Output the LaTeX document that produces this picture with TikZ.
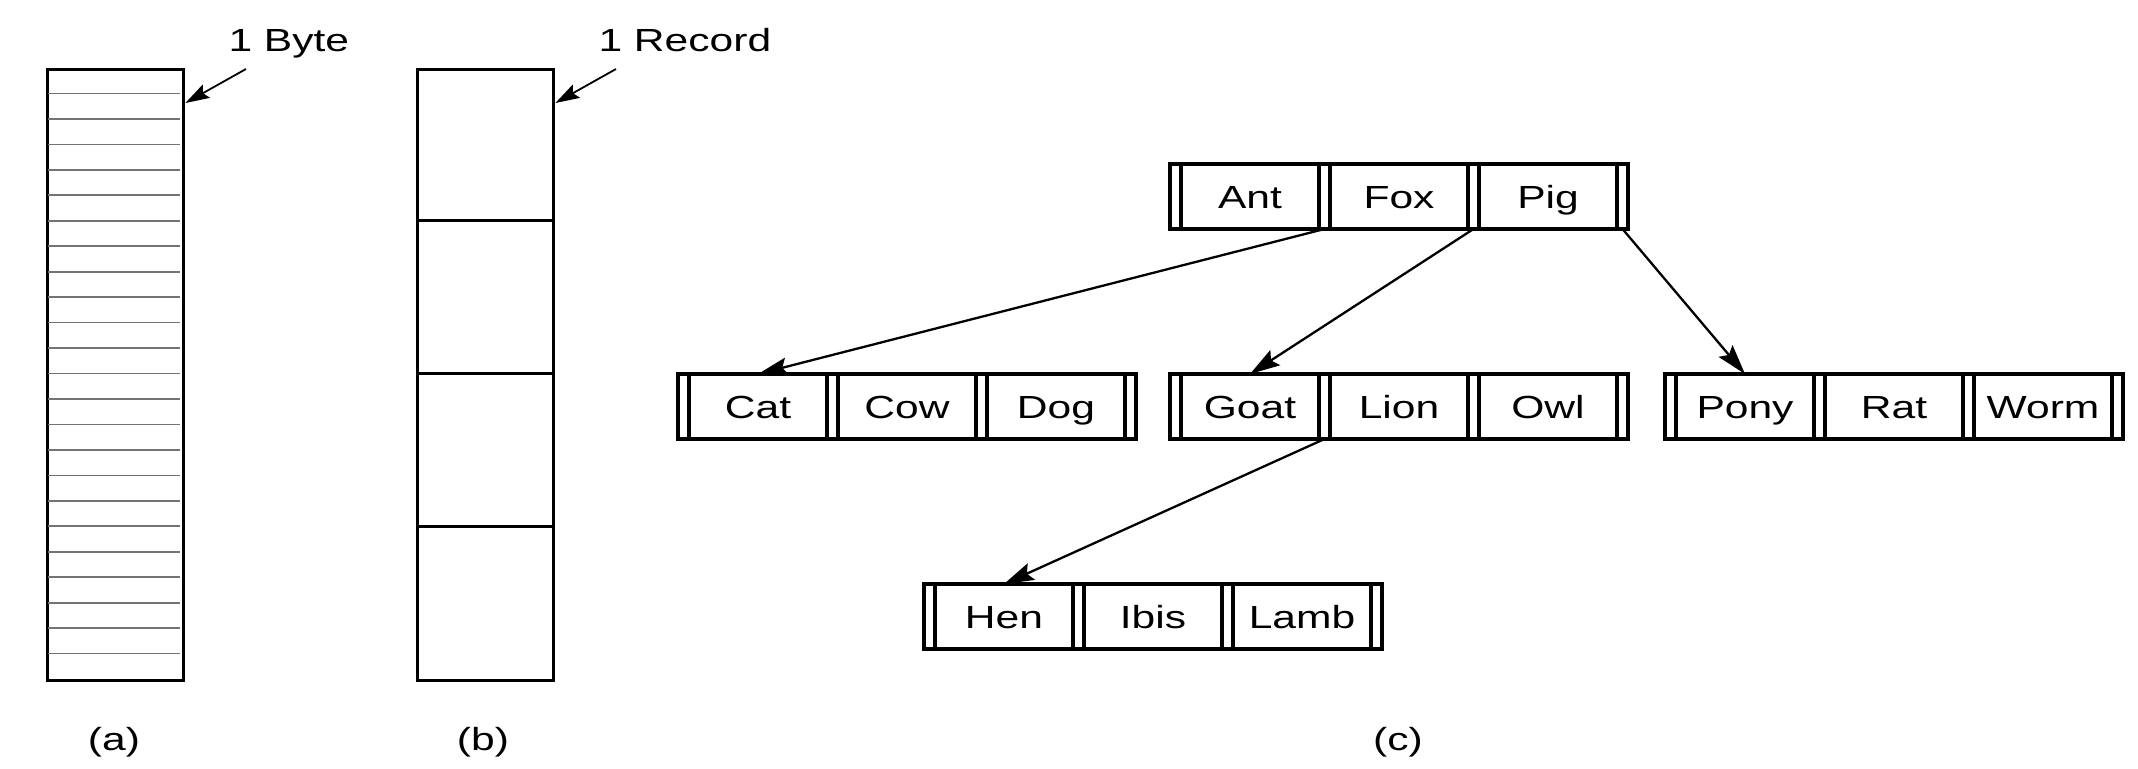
\documentclass[tikz,border=0pt]{standalone}
\usepackage{fontspec}
\setmainfont{Liberation Sans}[FakeStretch=1.33]
\usetikzlibrary{arrows.meta,positioning}
\tikzstyle{cell} = [rectangle, draw, line width=3.4pt, minimum width=138pt,
    minimum height=65pt, inner sep=0pt, outer sep=0pt, text height=23pt, text depth=0pt]
\tikzstyle{strip} = [rectangle, draw, line width=3.4pt, minimum width=11pt,
    minimum height=65pt, inner sep=0pt, outer sep=0pt]
\tikzstyle{store} = [rectangle, draw, line width=3.4pt, minimum width=136pt,
    minimum height=611pt, anchor=north west, inner sep=0pt]
\tikzstyle{ptr} = [draw, line width=2.3pt, -{Stealth[length=30pt,width=18pt,inset=5pt]}]
\tikzstyle{sizeptr} = [draw, line width=1.8pt, -{Stealth[length=24pt,width=15pt,inset=4pt]}]

\begin{document}
\begin{tikzpicture}[x=1pt,y=-1pt,font=\fontsize{32}{38}\selectfont]
    \useasboundingbox (0,0) rectangle (2138,768);
    % (a) byte sequence
    \node[store] (bytes) at (46,68) {};
    \foreach \i in {1,...,23}
        \draw[line width=1.7pt, black!55] (47.7,{68+\i*25.46}) -- (180.3,{68+\i*25.46});
    \node[anchor=base west] (bytelbl) at (225,52) {1 Byte};
    \coordinate (bytetail) at (246,69);
    \path[sizeptr] (bytetail) -- ([yshift=-35pt]bytes.north east);
    % (b) record sequence
    \node[store] (recs) at (416,68) {};
    \foreach \i in {1,2,3}
        \draw[line width=3pt] (416,{68+\i*152.75}) -- (552,{68+\i*152.75});
    \node[anchor=base west] (reclbl) at (595,52) {1 Record};
    \coordinate (rectail) at (616,69);
    \path[sizeptr] (rectail) -- ([yshift=-35pt]recs.north east);
    % (c) tree of records
    \foreach \nm/\px/\py/\ka/\kb/\kc in {root/1170/164/Ant/Fox/Pig,
            cat/678/374/Cat/Cow/Dog, goat/1170/374/Goat/Lion/Owl,
            pony/1665/374/Pony/Rat/Worm, hen/924/584/Hen/Ibis/Lamb} {
        \node[strip, anchor=north west] (\nm-s0) at (\px,\py) {};
        \node[cell, right=0pt of \nm-s0] (\nm-a) {\ka};
        \node[strip, right=0pt of \nm-a] (\nm-s1) {};
        \node[cell, right=0pt of \nm-s1] (\nm-b) {\kb};
        \node[strip, right=0pt of \nm-b] (\nm-s2) {};
        \node[cell, right=0pt of \nm-s2] (\nm-c) {\kc};
        \node[strip, right=0pt of \nm-c] (\nm-s3) {};
    }
    % Draw edges
    \path[ptr] (root-s1.south) -- (cat-a.north);
    \path[ptr] (root-s2.south) -- (goat-a.north);
    \path[ptr] (root-s3.south) -- (pony-a.north);
    \path[ptr] (goat-s1.south) -- (hen-a.north);
    % captions
    \node[anchor=base] (capa) at (114,750) {(a)};
    \node[anchor=base] (capb) at (483,750) {(b)};
    \node[anchor=base] (capc) at (1398,750) {(c)};
\end{tikzpicture}
\end{document}
